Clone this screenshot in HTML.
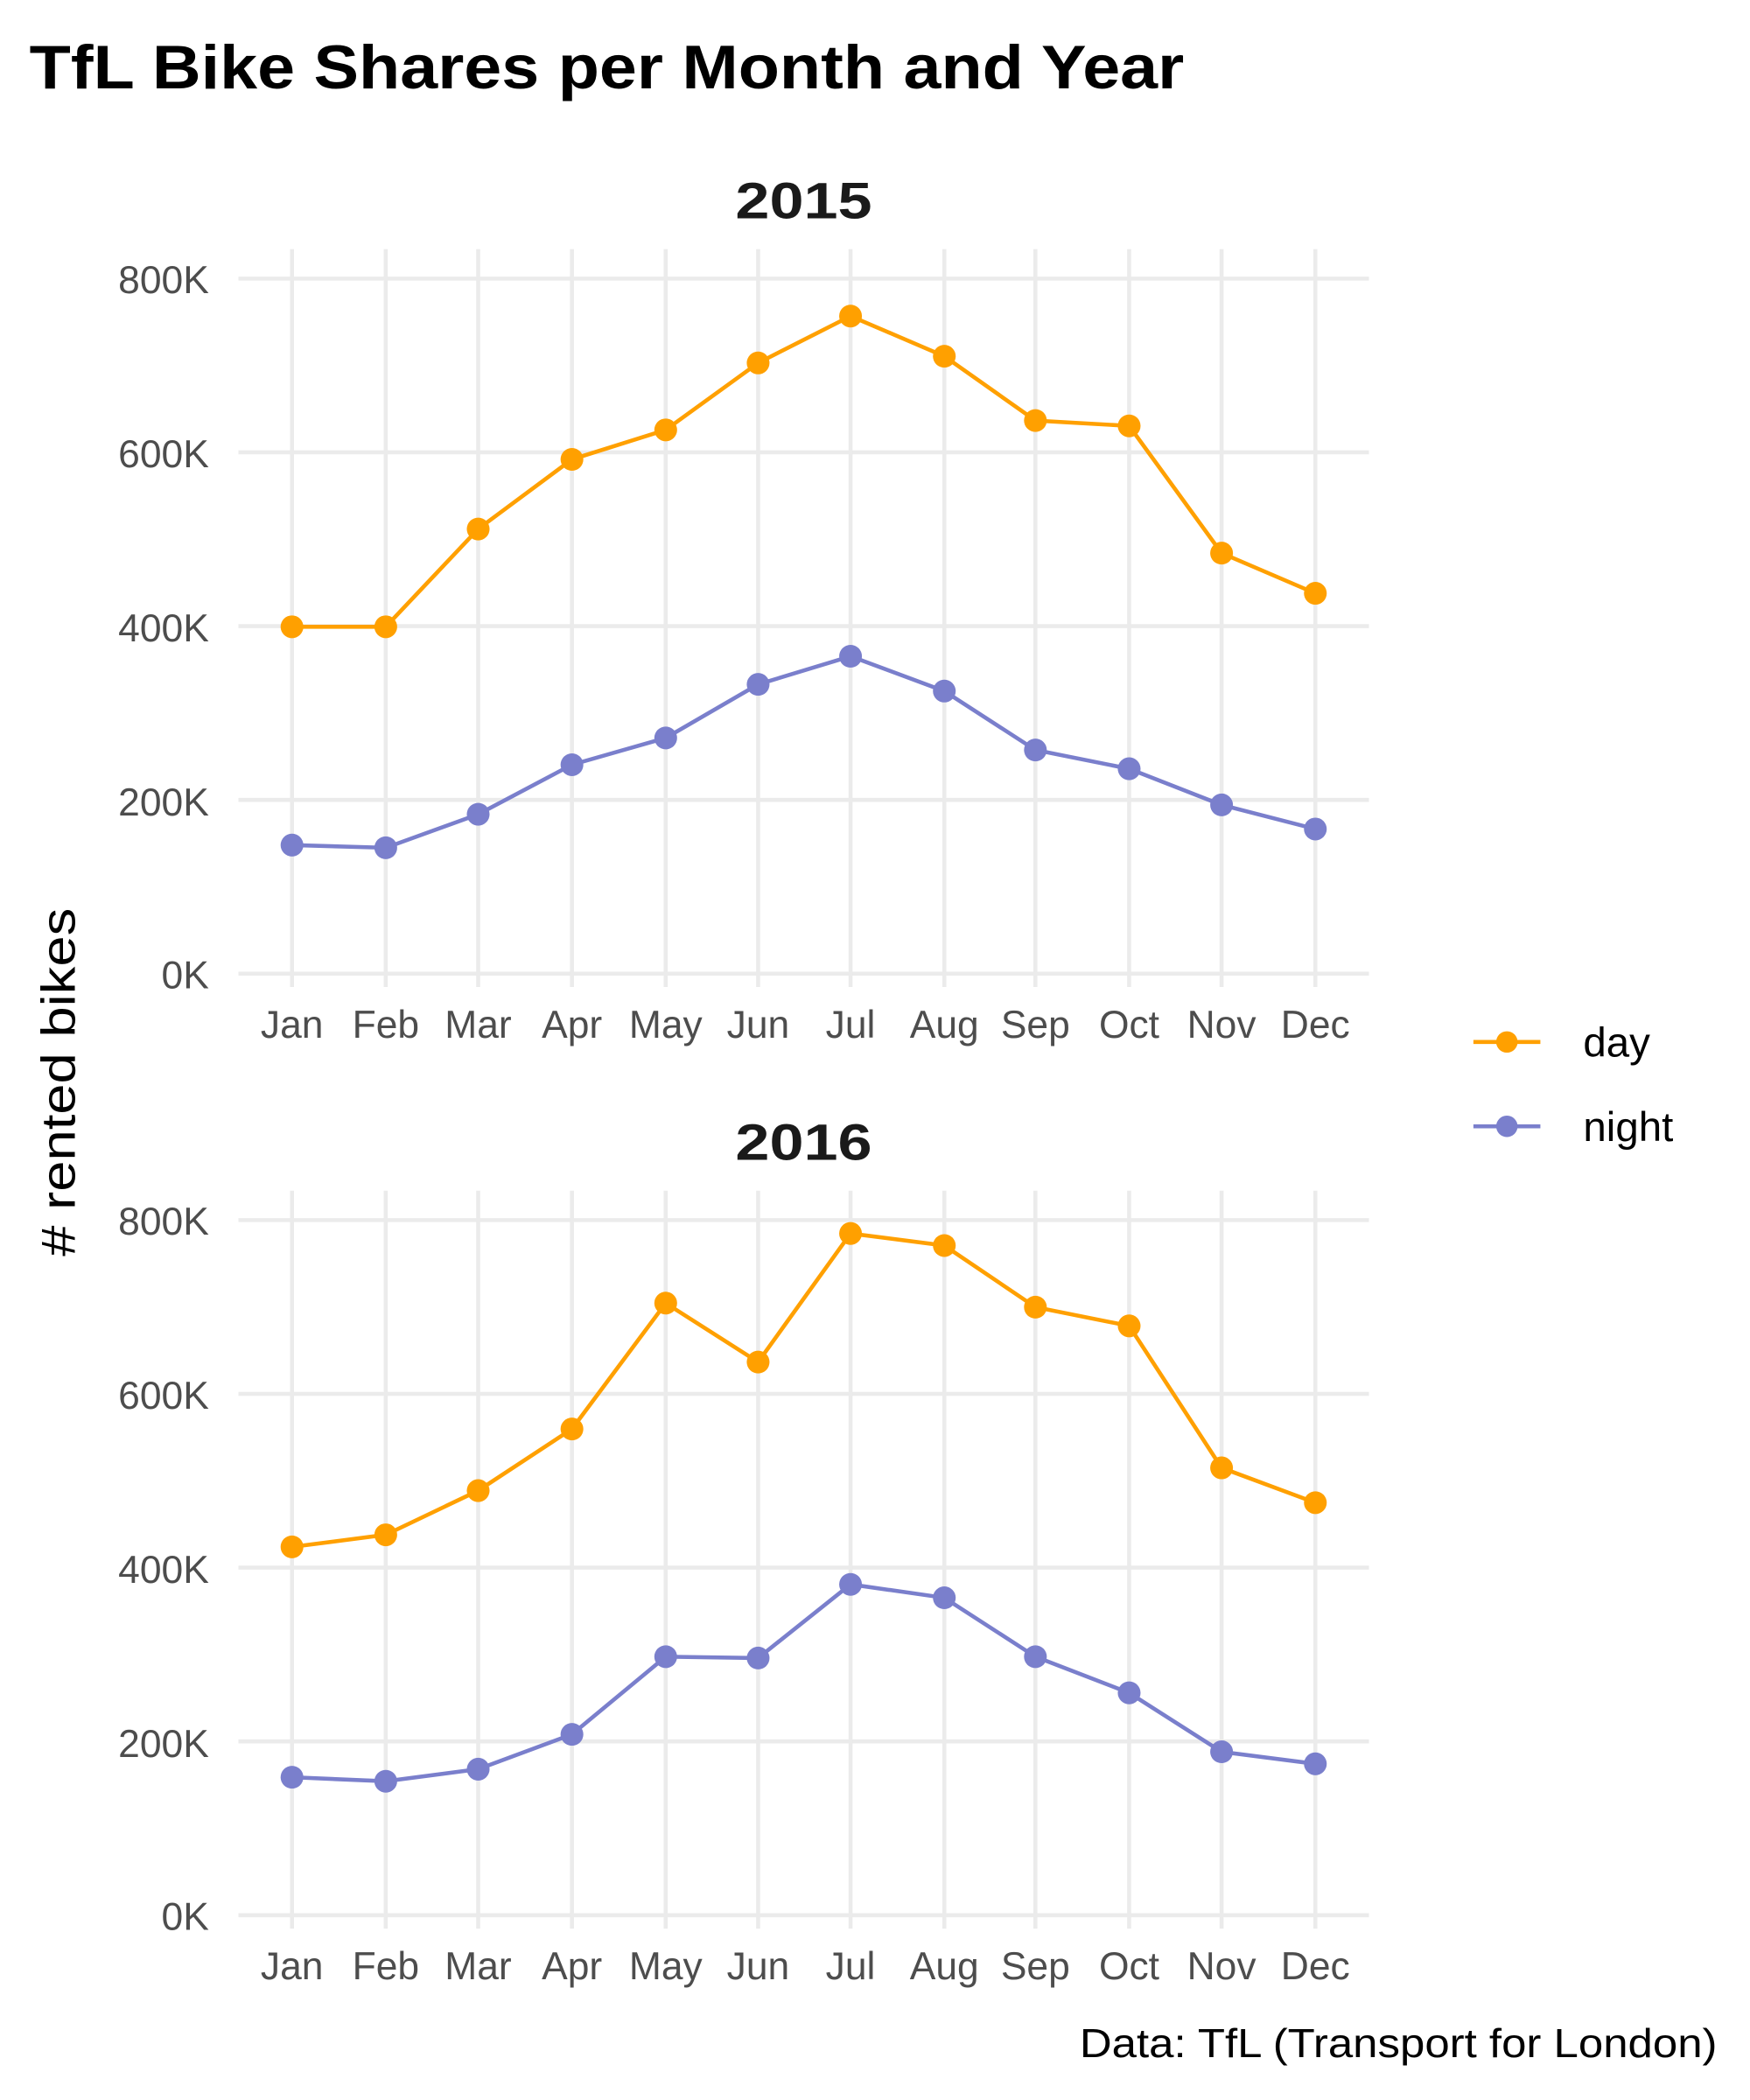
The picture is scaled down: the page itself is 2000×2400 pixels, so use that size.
<!DOCTYPE html>
<html><head><meta charset="utf-8"><style>
html,body{margin:0;padding:0;background:#fff}
svg{display:block}
text{font-family:"Liberation Sans",sans-serif}
</style></head><body>
<svg id="s" width="2000" height="2400" viewBox="0 0 1306.5 1568" preserveAspectRatio="none" xmlns="http://www.w3.org/2000/svg">
<rect width="1310" height="1570" fill="#fff"/>
<g id="grid"></g>
<g id="data"></g>
<text x="22" y="66" font-size="46" font-weight="bold" fill="#000" textLength="862" lengthAdjust="spacingAndGlyphs">TfL Bike Shares per Month and Year</text>
<text x="600" y="163" font-size="38" font-weight="bold" text-anchor="middle" fill="#1a1a1a" textLength="102" lengthAdjust="spacingAndGlyphs">2015</text>
<text x="600" y="866" font-size="38" font-weight="bold" text-anchor="middle" fill="#1a1a1a" textLength="102" lengthAdjust="spacingAndGlyphs">2016</text>
<g font-size="29" fill="#4d4d4d" text-anchor="end">
<text x="156" y="219">800K</text><text x="156" y="349">600K</text><text x="156" y="479">400K</text><text x="156" y="609">200K</text><text x="156" y="738">0K</text>
<text x="156" y="922">800K</text><text x="156" y="1052">600K</text><text x="156" y="1182">400K</text><text x="156" y="1312">200K</text><text x="156" y="1441">0K</text>
</g>
<g font-size="29" fill="#4d4d4d" text-anchor="middle">
<text x="218" y="775">Jan</text><text x="288" y="775">Feb</text><text x="357" y="775">Mar</text><text x="427" y="775">Apr</text><text x="497" y="775">May</text><text x="566" y="775">Jun</text><text x="635" y="775">Jul</text><text x="705" y="775">Aug</text><text x="773" y="775">Sep</text><text x="843" y="775">Oct</text><text x="912" y="775">Nov</text><text x="982" y="775">Dec</text>
<text x="218" y="1478">Jan</text><text x="288" y="1478">Feb</text><text x="357" y="1478">Mar</text><text x="427" y="1478">Apr</text><text x="497" y="1478">May</text><text x="566" y="1478">Jun</text><text x="635" y="1478">Jul</text><text x="705" y="1478">Aug</text><text x="773" y="1478">Sep</text><text x="843" y="1478">Oct</text><text x="912" y="1478">Nov</text><text x="982" y="1478">Dec</text>
</g>
<text transform="translate(56,808) rotate(-90)" font-size="36" text-anchor="middle" fill="#000" textLength="260" lengthAdjust="spacingAndGlyphs"># rented bikes</text>
<line x1="1100" y1="778" x2="1150" y2="778" stroke="#FFA000" stroke-width="3"/><circle cx="1125" cy="778" r="8" fill="#FFA000"/>
<line x1="1100" y1="841" x2="1150" y2="841" stroke="#7A7FCC" stroke-width="3"/><circle cx="1125" cy="841" r="8" fill="#7A7FCC"/>
<text x="1182" y="789" font-size="31" fill="#000">day</text>
<text x="1182" y="852" font-size="31" fill="#000">night</text>
<text x="1282" y="1536" font-size="30" text-anchor="end" fill="#000" textLength="476" lengthAdjust="spacingAndGlyphs">Data: TfL (Transport for London)</text>
</svg>
<script>
var X=[218,288,357,427,497,566,635,705,773,843,912,982];
var ns="http://www.w3.org/2000/svg";
function el(p,n,a){var e=document.createElementNS(ns,n);for(var k in a)e.setAttribute(k,a[k]);p.appendChild(e);return e;}
var g=document.getElementById('grid'),d=document.getElementById('data');
[[208,727],[911,1430]].forEach(function(p){
 for(var i=0;i<=4;i++){var y=p[0]+(p[1]-p[0])*i/4;el(g,'line',{x1:178,x2:1022,y1:y,y2:y,stroke:'#EBEBEB','stroke-width':3});}
 X.forEach(function(x){el(g,'line',{x1:x,x2:x,y1:p[0]-22,y2:p[1]+10,stroke:'#EBEBEB','stroke-width':3});});
});
var S=[
 [[468,468,395,343,321,271,236,266,314,318,413,443],'#FFA000'],
 [[631,633,608,571,551,511,490,516,560,574,601,619],'#7A7FCC'],
 [[1155,1146,1113,1067,973,1017,921,930,976,990,1096,1122],'#FFA000'],
 [[1327,1330,1321,1295,1237,1238,1183,1193,1237,1264,1308,1317],'#7A7FCC']];
S.forEach(function(s){
 el(d,'polyline',{points:X.map(function(x,i){return x+','+s[0][i];}).join(' '),fill:'none',stroke:s[1],'stroke-width':3});
 X.forEach(function(x,i){el(d,'circle',{cx:x,cy:s[0][i],r:8.5,fill:s[1]});});
});
</script>
</body></html>
